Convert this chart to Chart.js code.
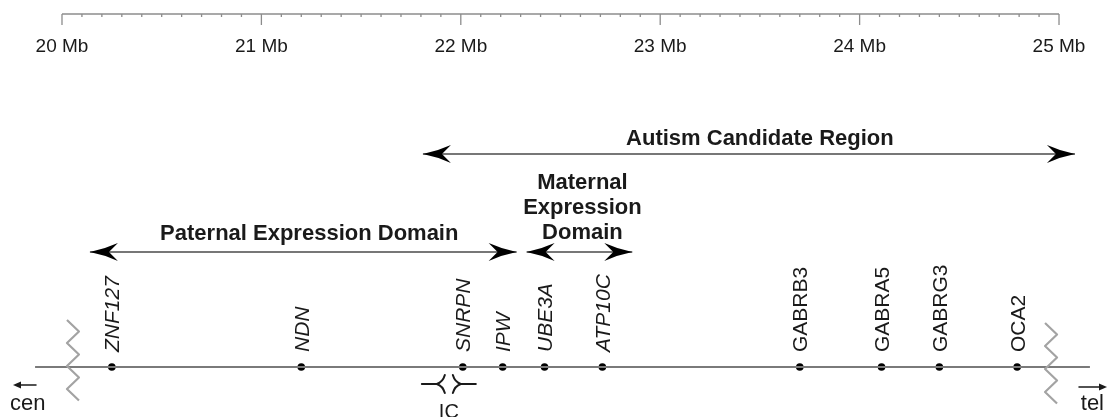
<!DOCTYPE html>
<html>
<head>
<meta charset="utf-8">
<script src="https://cdn.jsdelivr.net/npm/chart.js@4.4.0/dist/chart.umd.min.js"></script>
<style>
  html, body { margin: 0; padding: 0; background: #fff; }
</style>
</head>
<body>
<canvas id="myCanvas" width="1110" height="417"></canvas>
<script>
// positions in Mb along chromosome 15q11-q13
const geneNames = ['ZNF127', 'NDN', 'SNRPN', 'IPW', 'UBE3A', 'ATP10C', 'GABRB3', 'GABRA5', 'GABRG3', 'OCA2']
const genePositions = [20.25, 21.20, 22.01, 22.21, 22.42, 22.71, 23.70, 24.11, 24.40, 24.79]
const geneItalic = [true, true, true, true, true, true, false, false, false, false]

const rulerTicks = [20, 21, 22, 23, 24, 25]
const rulerLabels = ['20 Mb', '21 Mb', '22 Mb', '23 Mb', '24 Mb', '25 Mb']

const domainLabels = [['Autism Candidate Region'], ['Paternal Expression Domain'], ['Maternal', 'Expression', 'Domain']]
const domainStarts = [21.81, 20.14, 22.33]
const domainEnds = [25.08, 22.28, 22.86]
const domainLabelAt = [23.50, 21.24, 22.61]

const chromosomeSpan = [19.865, 25.155]
const breakPositions = [20.055, 24.96]
const icPosition = 21.94

// layout (pixel rows, y axis runs 0..417 top to bottom)
const rowRuler = 14
const rowChrom = 367
const domainRows = [154, 252, 252]
const domainTextRows = [[145], [240], [189, 214, 239]]

const GREY = '#8c8c8c'
const INK = '#1a1a1a'
const FONT = '"Liberation Sans", Arial, Helvetica, sans-serif'

function seg(a, b, y){
  return [{x: a, y: y}, {x: b, y: y}]
}

function arrowHead(ctx, x, y, dir, len, half){
  ctx.beginPath()
  ctx.moveTo(x, y)
  ctx.quadraticCurveTo(x - dir*len*0.5, y - half*0.3, x - dir*len, y - half)
  ctx.lineTo(x - dir*len*0.68, y)
  ctx.lineTo(x - dir*len, y + half)
  ctx.quadraticCurveTo(x - dir*len*0.5, y + half*0.3, x, y)
  ctx.closePath()
  ctx.fill()
}

function zigzag(ctx, cx, top, bottom){
  const step = 11.5
  ctx.beginPath()
  let side = -1
  ctx.moveTo(cx + side*6, top)
  for(let y = top + step; y <= bottom + 0.1; y += step){
    side = -side
    ctx.lineTo(cx + side*6, y)
  }
  ctx.stroke()
}

const mapPlugin = {
  id: 'mapPlugin',
  afterDatasetsDraw(chart){
    const ctx = chart.ctx
    const xs = chart.scales.x
    const ys = chart.scales.y
    ctx.save()

    // ruler ticks and labels
    ctx.strokeStyle = GREY
    ctx.lineWidth = 1.3
    const yr = ys.getPixelForValue(rowRuler)
    for(let i = 0; i <= 50; i++){
      const v = 20 + i/10
      const px = xs.getPixelForValue(v)
      const major = i % 10 === 0
      ctx.beginPath()
      ctx.moveTo(px, yr)
      ctx.lineTo(px, yr + (major ? 11 : 3))
      ctx.stroke()
    }
    ctx.fillStyle = INK
    ctx.font = '19px ' + FONT
    ctx.textAlign = 'center'
    ctx.textBaseline = 'alphabetic'
    rulerTicks.forEach((t, i) => {
      ctx.fillText(rulerLabels[i], xs.getPixelForValue(t), 52)
    })

    // domain arrow heads and labels
    ctx.fillStyle = '#000'
    domainStarts.forEach((s, i) => {
      const y = ys.getPixelForValue(domainRows[i])
      arrowHead(ctx, xs.getPixelForValue(s), y, -1, 28, 9)
      arrowHead(ctx, xs.getPixelForValue(domainEnds[i]), y, 1, 28, 9)
    })
    ctx.fillStyle = INK
    ctx.font = 'bold 22px ' + FONT
    domainLabels.forEach((lines, i) => {
      lines.forEach((ln, j) => {
        ctx.fillText(ln, xs.getPixelForValue(domainLabelAt[i]), domainTextRows[i][j])
      })
    })

    // gene names, rotated
    const yc = ys.getPixelForValue(rowChrom)
    ctx.textAlign = 'left'
    geneNames.forEach((g, i) => {
      ctx.save()
      ctx.font = (geneItalic[i] ? 'italic ' : '') + '21px ' + FONT
      ctx.translate(xs.getPixelForValue(genePositions[i]) + 7.5, yc - 15)
      ctx.rotate(-Math.PI/2)
      ctx.fillText(g, 0, 0)
      ctx.restore()
    })

    // chromosome breaks
    ctx.strokeStyle = '#a3a3a3'
    ctx.lineWidth = 2.2
    ctx.lineJoin = 'round'
    zigzag(ctx, xs.getPixelForValue(breakPositions[0]), 320, 407)
    zigzag(ctx, xs.getPixelForValue(breakPositions[1]), 323, 408)

    // imprinting centre symbol
    const ic = xs.getPixelForValue(icPosition)
    const yi = 384
    ctx.strokeStyle = INK
    ctx.lineWidth = 2
    ctx.lineCap = 'round'
    ;[-1, 1].forEach(d => {
      ctx.beginPath()
      ctx.moveTo(ic + d*27, yi)
      ctx.lineTo(ic + d*12, yi)
      ctx.quadraticCurveTo(ic + d*6, yi - 2, ic + d*4, yi - 9)
      ctx.moveTo(ic + d*12, yi)
      ctx.quadraticCurveTo(ic + d*6, yi + 2, ic + d*4, yi + 9)
      ctx.stroke()
    })
    ctx.fillStyle = INK
    ctx.font = '20px ' + FONT
    ctx.textAlign = 'center'
    ctx.fillText('IC', ic, 418)

    // cen / tel
    const left = chart.chartArea.left
    const right = chart.chartArea.right
    ctx.font = '22px ' + FONT
    ctx.textAlign = 'left'
    ctx.fillText('cen', left + 10, 410)
    ctx.textAlign = 'right'
    ctx.fillText('tel', right - 6, 410)
    ctx.strokeStyle = INK
    ctx.lineWidth = 1.5
    ctx.beginPath(); ctx.moveTo(left + 36, 385); ctx.lineTo(left + 20, 385); ctx.stroke()
    ctx.fillStyle = INK
    ctx.beginPath(); ctx.moveTo(left + 13, 385); ctx.lineTo(left + 21, 381.5); ctx.lineTo(left + 21, 388.5); ctx.fill()
    ctx.beginPath(); ctx.moveTo(right - 31, 387); ctx.lineTo(right - 10, 387); ctx.stroke()
    ctx.beginPath(); ctx.moveTo(right - 3, 387); ctx.lineTo(right - 11, 383.5); ctx.lineTo(right - 11, 390.5); ctx.fill()

    ctx.restore()
  }
}

const datasets = [
  {type: 'line', data: seg(rulerTicks[0], rulerTicks[rulerTicks.length - 1], rowRuler), borderColor: GREY, borderWidth: 1.5},
  {type: 'line', data: seg(chromosomeSpan[0], chromosomeSpan[1], rowChrom), borderColor: '#7a7a7a', borderWidth: 1.8},
  {type: 'scatter', data: genePositions.map(p => ({x: p, y: rowChrom})), backgroundColor: '#000', borderColor: '#000', pointRadius: 3.8, borderWidth: 0}
]
domainStarts.forEach((s, i) => {
  datasets.push({type: 'line', data: seg(s, domainEnds[i], domainRows[i]), borderColor: '#777', borderWidth: 2})
})
datasets.forEach(d => { d.clip = false; if(d.type === 'line') d.pointRadius = 0 })

new Chart(document.getElementById('myCanvas'), {
  type: 'scatter',
  data: {datasets: datasets},
  options: {
    responsive: false,
    devicePixelRatio: 1,
    animation: false,
    layout: {padding: 0, autoPadding: false},
    plugins: {legend: {display: false}, tooltip: {enabled: false}},
    scales: {
      x: {type: 'linear', min: 19.6891, max: 25.2557, display: false},
      y: {type: 'linear', min: 0, max: 417, reverse: true, display: false}
    }
  },
  plugins: [mapPlugin]
})
</script>
</body>
</html>
